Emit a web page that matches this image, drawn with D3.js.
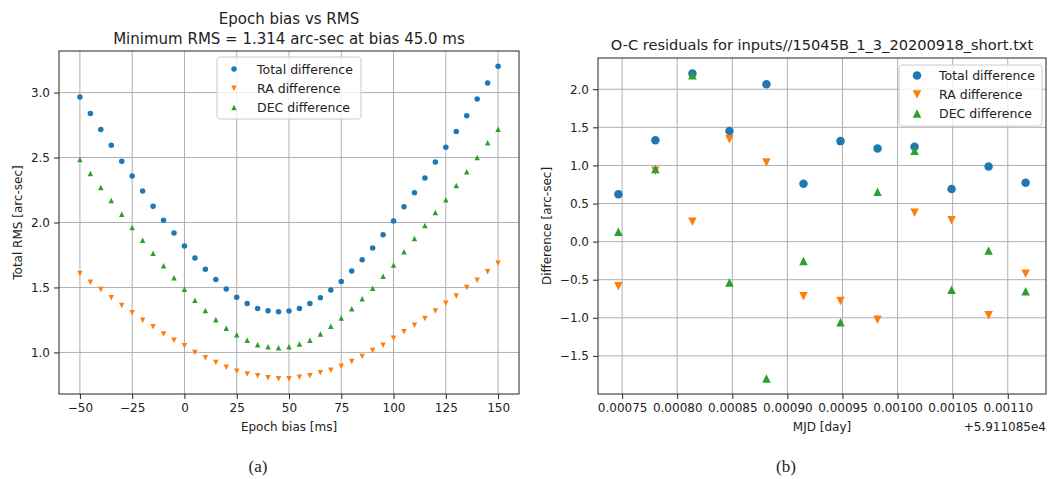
<!DOCTYPE html>
<html>
<head>
<meta charset="utf-8">
<title>Epoch bias vs RMS / O-C residuals</title>
<style>
  body { margin: 0; background: #fff; }
  svg text { font-family: "DejaVu Sans", sans-serif; fill: #222; }
</style>
</head>
<body>
<div id="chart"></div>
<script src="https://cdn.jsdelivr.net/npm/d3@7"></script>
<script>
// ---- data: panel (a), epoch bias scan ----
var biasMs = [-50, -45, -40, -35, -30, -25, -20, -15, -10, -5, 0, 5, 10, 15, 20, 25, 30, 35, 40, 45, 50,
              55, 60, 65, 70, 75, 80, 85, 90, 95, 100, 105, 110, 115, 120, 125, 130, 135, 140, 145, 150];
var rmsTotal = [2.966, 2.838, 2.716, 2.595, 2.471, 2.358, 2.242, 2.126, 2.018, 1.920, 1.819, 1.726, 1.641, 1.562,
                1.489, 1.425, 1.376, 1.339, 1.320, 1.314, 1.318, 1.339, 1.376, 1.420, 1.481, 1.546, 1.626, 1.713,
                1.804, 1.906, 2.012, 2.121, 2.229, 2.343, 2.466, 2.579, 2.701, 2.822, 2.951, 3.074, 3.203];
var rmsRA = [1.608, 1.541, 1.485, 1.420, 1.361, 1.306, 1.247, 1.198, 1.141, 1.093, 1.051, 1.000, 0.959, 0.923,
             0.886, 0.855, 0.834, 0.821, 0.805, 0.797, 0.797, 0.808, 0.821, 0.843, 0.863, 0.894, 0.930, 0.969,
             1.015, 1.056, 1.110, 1.160, 1.210, 1.262, 1.319, 1.378, 1.435, 1.500, 1.556, 1.620, 1.686];
var rmsDEC = [2.484, 2.378, 2.270, 2.170, 2.064, 1.961, 1.863, 1.763, 1.667, 1.574, 1.487, 1.402, 1.322, 1.252,
              1.187, 1.136, 1.094, 1.059, 1.043, 1.036, 1.043, 1.064, 1.094, 1.141, 1.201, 1.265, 1.337, 1.414,
              1.494, 1.587, 1.672, 1.775, 1.876, 1.976, 2.077, 2.175, 2.285, 2.391, 2.500, 2.613, 2.718];
var biasTicks = [-50, -25, 0, 25, 50, 75, 100, 125, 150];
var rmsTicks = [1.0, 1.5, 2.0, 2.5, 3.0];

// ---- data: panel (b), O-C residuals (MJD minus 59110.85) ----
var mjdOffset = [0.0007466, 0.0007802, 0.0008138, 0.0008474, 0.0008810, 0.0009146,
                 0.0009482, 0.0009818, 0.0010154, 0.0010490, 0.0010826, 0.0011162];
var diffTotal = [0.621, 1.332, 2.206, 1.453, 2.067, 0.761, 1.319, 1.222, 1.244, 0.692, 0.987, 0.774];
var diffRA = [-0.587, 0.930, 0.261, 1.345, 1.039, -0.718, -0.779, -1.027, 0.379, 0.282, -0.966, -0.423];
var diffDEC = [0.130, 0.953, 2.184, -0.535, -1.798, -0.253, -1.057, 0.653, 1.192, -0.632, -0.118, -0.653];
var mjdTicks = [0.00075, 0.00080, 0.00085, 0.00090, 0.00095, 0.00100, 0.00105, 0.00110];
var diffTicks = [-1.5, -1.0, -0.5, 0.0, 0.5, 1.0, 1.5, 2.0];

var seriesNames = ["Total difference", "RA difference", "DEC difference"];
var colors = ["#1f77b4", "#ff7f0e", "#2ca02c"];
var shapes = ["circle", "down", "up"];

var W = 1049, H = 479;
var svg = d3.select("#chart").append("svg").attr("width", W).attr("height", H);

function minusFmt(f) {
  return function(d) { return f(d).replace("-", "\u2212"); };
}

// marker path centred on bounding box like matplotlib markers
function marker(shape, s) {
  var r = s / 2;
  if (shape === "circle") return d3.symbol(d3.symbolCircle, Math.PI * r * r)();
  if (shape === "up") return "M0," + (-r) + "L" + r + "," + r + "L" + (-r) + "," + r + "Z";
  return "M0," + r + "L" + r + "," + (-r) + "L" + (-r) + "," + (-r) + "Z";
}

function panel(o) {
  var g = svg.append("g");
  var x = d3.scaleLinear().domain(o.xDomain).range([o.x0, o.x1]);
  var y = d3.scaleLinear().domain(o.yDomain).range([o.y1, o.y0]);

  // grid
  g.append("g").selectAll("line").data(o.xTicks).enter().append("line")
    .attr("x1", function(d) { return x(d); }).attr("x2", function(d) { return x(d); })
    .attr("y1", o.y0).attr("y2", o.y1)
    .attr("stroke", "#b0b0b0").attr("stroke-width", 1);
  g.append("g").selectAll("line").data(o.yTicks).enter().append("line")
    .attr("y1", function(d) { return y(d); }).attr("y2", function(d) { return y(d); })
    .attr("x1", o.x0).attr("x2", o.x1)
    .attr("stroke", "#b0b0b0").attr("stroke-width", 1);

  // axes
  var xAxis = d3.axisBottom(x).tickValues(o.xTicks).tickFormat(o.xFmt).tickSize(5).tickPadding(4);
  var yAxis = d3.axisLeft(y).tickValues(o.yTicks).tickFormat(o.yFmt).tickSize(5).tickPadding(4);
  var gx = g.append("g").attr("transform", "translate(0," + o.y1 + ")").call(xAxis);
  var gy = g.append("g").attr("transform", "translate(" + o.x0 + ",0)").call(yAxis);
  [gx, gy].forEach(function(a) {
    a.select(".domain").remove();
    a.selectAll("line").attr("stroke", "#222").attr("stroke-width", 1);
    a.selectAll("text").attr("font-size", 12).attr("fill", "#222")
      .style("font-family", "DejaVu Sans, sans-serif");
  });

  // series
  o.series.forEach(function(vals, k) {
    g.append("g").selectAll("path").data(vals).enter().append("path")
      .attr("d", marker(shapes[k], o.ms))
      .attr("transform", function(d, i) { return "translate(" + x(o.xs[i]) + "," + y(d) + ")"; })
      .attr("fill", colors[k]);
  });

  // frame
  g.append("rect").attr("x", o.x0).attr("y", o.y0)
    .attr("width", o.x1 - o.x0).attr("height", o.y1 - o.y0)
    .attr("fill", "none").attr("stroke", "#222").attr("stroke-width", 1);

  // labels
  g.append("text").attr("x", (o.x0 + o.x1) / 2).attr("y", o.y1 + 37)
    .attr("text-anchor", "middle").attr("font-size", 12).text(o.xLabel);
  g.append("text").attr("transform", "translate(" + o.yLabelX + "," + ((o.y0 + o.y1) / 2) + ") rotate(-90)")
    .attr("text-anchor", "middle").attr("font-size", 12).text(o.yLabel);
  o.title.forEach(function(t, i) {
    g.append("text").attr("x", (o.x0 + o.x1) / 2).attr("y", o.titleY + i * 20)
      .attr("text-anchor", "middle").attr("font-size", o.titleSize).text(t);
  });

  // legend
  var L = o.legend;
  g.append("rect").attr("x", L.x).attr("y", L.y).attr("width", L.w).attr("height", L.h)
    .attr("rx", 3).attr("fill", "#fff").attr("fill-opacity", 0.8)
    .attr("stroke", "#cccccc").attr("stroke-width", 1);
  seriesNames.forEach(function(name, k) {
    var cy = L.y + L.first + k * L.step;
    g.append("path").attr("d", marker(shapes[k], o.ms))
      .attr("transform", "translate(" + (L.x + L.mx) + "," + cy + ")").attr("fill", colors[k]);
    g.append("text").attr("x", L.x + L.tx).attr("y", cy + 4.5).attr("font-size", 12.5).text(name);
  });
  return { x: x, y: y };
}

// panel (a)
panel({
  x0: 59, x1: 519, y0: 51, y1: 394,
  xDomain: [-60, 160], yDomain: [0.68, 3.32],
  xTicks: biasTicks, yTicks: rmsTicks,
  xFmt: minusFmt(d3.format("d")), yFmt: d3.format(".1f"),
  xs: biasMs, series: [rmsTotal, rmsRA, rmsDEC], ms: 5.5,
  xLabel: "Epoch bias [ms]", yLabel: "Total RMS [arc-sec]", yLabelX: 22,
  title: ["Epoch bias vs RMS", "Minimum RMS = 1.314 arc-sec at bias 45.0 ms"], titleY: 24, titleSize: 15,
  legend: { x: 217, y: 57, w: 144, h: 62, first: 12, step: 19.3, mx: 17, tx: 40 }
});

// panel (b)
var pb = panel({
  x0: 598, x1: 1046, y0: 58, y1: 394,
  xDomain: [0.0007281, 0.0011347], yDomain: [-2.0, 2.41],
  xTicks: mjdTicks, yTicks: diffTicks,
  xFmt: d3.format(".5f"), yFmt: minusFmt(d3.format(".1f")),
  xs: mjdOffset, series: [diffTotal, diffRA, diffDEC], ms: 8.5,
  xLabel: "MJD [day]", yLabel: "Difference [arc-sec]", yLabelX: 551,
  title: ["O-C residuals for inputs//15045B_1_3_20200918_short.txt"], titleY: 50, titleSize: 14.6,
  legend: { x: 899, y: 65, w: 143, h: 61, first: 10.5, step: 19, mx: 18, tx: 40 }
});

svg.append("text").attr("x", 1046).attr("y", 431).attr("text-anchor", "end")
  .attr("font-size", 12).text("+5.911085e4");

// sub-figure captions
svg.append("text").attr("x", 258).attr("y", 472).attr("text-anchor", "middle")
  .attr("font-size", 17).style("font-family", "Liberation Serif, serif").text("(a)");
svg.append("text").attr("x", 786).attr("y", 472).attr("text-anchor", "middle")
  .attr("font-size", 17).style("font-family", "Liberation Serif, serif").text("(b)");
</script>
</body>
</html>
